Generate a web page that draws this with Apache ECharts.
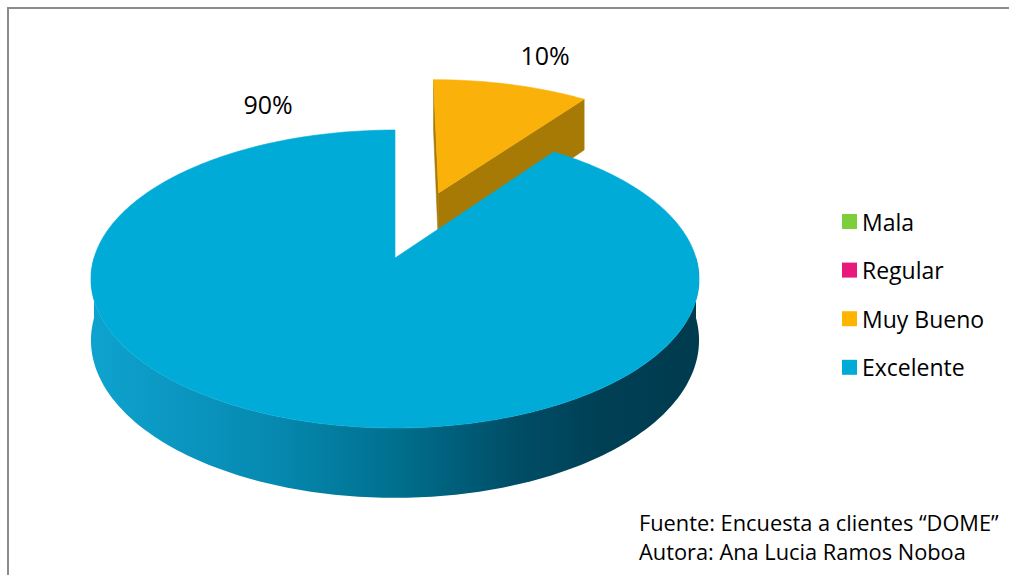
<!DOCTYPE html>
<html>
<head>
<meta charset="utf-8">
<style>
html, body { margin: 0; padding: 0; background: #fff; }
#main { width: 1009px; height: 575px; }
</style>
<script src="https://cdn.jsdelivr.net/npm/echarts@6/dist/echarts.min.js"></script>
</head>
<body>
<div id="main"></div>
<script>
// datos
var categories = ['Mala', 'Regular', 'Muy Bueno', 'Excelente'];
var values = [0, 0, 10, 90];
var sourceLines = ['Fuente: Encuesta a clientes \u201cDOME\u201d', 'Autora: Ana Lucia Ramos Noboa'];

// estilo
var legendColors = ['#7ccf3a', '#e8197a', '#ffb400', '#00abd8'];
var topColors = ['#7ccf3a', '#e8197a', '#fab20b', '#00abd8'];
var sideColors = ['#4f8a22', '#9a1050', '#a67a05', '#0689b0'];
var explode = [0, 0, 0.5, 0];
var labelPos = [[0, 0], [0, 0], [545, 55], [268, 104]];

// proyeccion 3D simple (perspectiva)
var CX = 395, CY = 258, RX = 301, RY = 146, PERSP = 0.141, DEPTH = 60;
function proj(x, y, z) {
	var d = 1 - PERSP * y;
	return [CX + RX * x / d, CY + (RY * y + DEPTH * z) / d];
}
function area(p) {
	var s = 0;
	for (var i = 0; i < p.length; i++) {
		var q = p[(i + 1) % p.length];
		s += p[i][0] * q[1] - q[0] * p[i][1];
	}
	return s;
}

var total = values.reduce(function(a, b) { return a + b; }, 0);
var starts = [];
var acc = 0;
values.forEach(function(v) { starts.push(acc); acc += v; });

var STEP = Math.PI / 180;

function renderSlice(idx) {
	return function(params, api) {
		var v = api.value(0);
		if (!v) return;
		var a0 = starts[idx] / total * 2 * Math.PI;
		var a1 = (starts[idx] + v) / total * 2 * Math.PI;
		var am = (a0 + a1) / 2;
		var e = explode[idx];
		var ox = e * Math.sin(am), oy = -e * Math.cos(am);
		function pt(a, r, z) {
			return proj(ox + r * Math.sin(a), oy - r * Math.cos(a), z);
		}
		function arc(b0, b1, z) {
			var pts = [];
			var n = Math.max(2, Math.ceil((b1 - b0) / STEP));
			for (var k = 0; k <= n; k++) pts.push(pt(b0 + (b1 - b0) * k / n, 1, z));
			return pts;
		}
		var children = [];
		// paredes radiales
		[[a0, -1], [a1, 1]].forEach(function(w) {
			var poly = [pt(w[0], 0, 0), pt(w[0], 1, 0), pt(w[0], 1, 1), pt(w[0], 0, 1)];
			if (area(poly) * w[1] > 1) {
				children.push({
					type: 'polygon',
					shape: { points: poly },
					style: { fill: sideColors[idx], stroke: sideColors[idx], lineWidth: 0.5 }
				});
			}
		});
		// pared exterior (frente)
		var f0 = Math.max(a0, Math.PI / 2), f1 = Math.min(a1, 3 * Math.PI / 2);
		if (f1 > f0) {
			var wall = arc(f0, f1, 0).concat(arc(f0, f1, 1).reverse());
			children.push({
				type: 'polygon',
				shape: { points: wall },
				style: {
					fill: idx === 3 ? new echarts.graphic.LinearGradient(0, 0, 1, 0, [
						{ offset: 0, color: '#0ea3cf' },
						{ offset: 0.3, color: '#0689b0' },
						{ offset: 0.5, color: '#00708f' },
						{ offset: 0.7, color: '#004d66' },
						{ offset: 0.85, color: '#003f54' },
						{ offset: 1, color: '#003b4f' }
					]) : sideColors[idx]
				}
			});
		}
		// cara superior
		var topFace = [pt(a0, 0, 0)].concat(arc(a0, a1, 0));
		children.push({
			type: 'polygon',
			shape: { points: topFace },
			style: { fill: topColors[idx], stroke: topColors[idx], lineWidth: 0.6 }
		});
		return { type: 'group', children: children };
	};
}

var graphics = [{
	type: 'rect',
	shape: { x: 8, y: 8, width: 1012, height: 580 },
	style: { fill: 'none', stroke: '#8c8c8c', lineWidth: 2 },
	silent: true
}];
values.forEach(function(v, i) {
	if (!v) return;
	graphics.push({
		type: 'text',
		x: labelPos[i][0],
		y: labelPos[i][1],
		style: {
			text: Math.round(v / total * 100) + '%',
			fontSize: 25,
			fontFamily: 'Open Sans',
			fill: '#000',
			align: 'center',
			verticalAlign: 'middle'
		}
	});
});

var chart = echarts.init(document.getElementById('main'), null, { renderer: 'svg' });
chart.setOption({
	animation: false,
	backgroundColor: '#fff',
	title: {
		text: sourceLines.join('\n'),
		left: 634,
		top: 503,
		textStyle: {
			fontSize: 21.8,
			fontWeight: 'normal',
			fontFamily: 'Open Sans',
			color: '#000',
			lineHeight: 29
		}
	},
	legend: {
		orient: 'vertical',
		left: 837,
		top: 205,
		itemWidth: 15,
		itemHeight: 15,
		itemGap: 25.6,
		icon: 'rect',
		textStyle: {
			fontSize: 23,
			fontFamily: 'Open Sans',
			color: '#000',
			lineHeight: 22
		},
		data: categories
	},
	graphic: graphics,
	series: categories.map(function(name, i) {
		return {
			name: name,
			type: 'custom',
			coordinateSystem: 'none',
			itemStyle: { color: legendColors[i] },
			renderItem: renderSlice(i),
			data: [[values[i]]]
		};
	})
});
</script>
</body>
</html>
